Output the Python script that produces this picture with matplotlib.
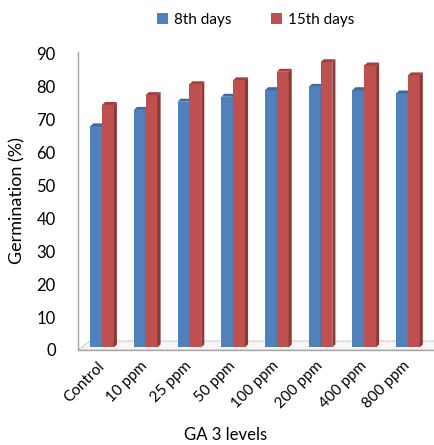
import matplotlib
matplotlib.use("Agg")
import matplotlib.pyplot as plt
from matplotlib.patches import Polygon, Rectangle

plt.rcParams['font.family'] = ['Lato', 'DejaVu Sans']

categories = ["Control", "10 ppm", "25 ppm", "50 ppm", "100 ppm", "200 ppm", "400 ppm", "800 ppm"]
day8 = [68, 73, 75.5, 77, 79, 80, 79, 78]
day15 = [74.5, 77.5, 80.8, 82, 84.6, 87.5, 86.5, 83.5]
series_names = ["8th days", "15th days"]
y_ticks = [0, 10, 20, 30, 40, 50, 60, 70, 80, 90]

front = ["#4F81BD", "#C0504D"]
side = ["#385D8A", "#8C3836"]
top = ["#3F6A9E", "#A2403D"]

fig = plt.figure(figsize=(4.35, 4.45), dpi=100)
ax = fig.add_axes([78 / 435, 95 / 445, 354 / 435, 298 / 445])
ax.set_xlim(-0.55, 7.55)
ax.set_ylim(0, 90.6)

w = 0.27
dx, dy = 0.07, 0.9

# floor of the 3-D plot area
fx0, fx1 = -0.55, 7.6
floor = Polygon([(fx0, 0), (fx1, 0), (fx1 + 0.25, 2.7), (fx0 + 0.27, 2.7)],
                closed=True, facecolor="#F7F7F7", edgecolor="#A6A6A6",
                lw=0.8, ls=(0, (1, 1)), clip_on=False, zorder=1)
ax.add_patch(floor)
ax.plot([fx0, fx1], [0, 0], color="#A6A6A6", lw=1.0, clip_on=False, zorder=1.5)

for s, vals in enumerate([day8, day15]):
    for i, v in enumerate(vals):
        x0 = i - w + s * w
        z = 2 + s
        ax.add_patch(Rectangle((x0, 0.8), w, v - 0.8, facecolor=front[s], edgecolor="none",
                               zorder=z, clip_on=False))
        ax.add_patch(Polygon([(x0 + w, 0.8), (x0 + w + dx, 0.8 + dy), (x0 + w + dx, v + dy), (x0 + w, v)],
                             closed=True, facecolor=side[s], edgecolor="none", zorder=z, clip_on=False))
        ax.add_patch(Polygon([(x0, v), (x0 + w, v), (x0 + w + dx, v + dy), (x0 + dx, v + dy)],
                             closed=True, facecolor=top[s], edgecolor="none", zorder=z, clip_on=False))

for sp in ["top", "right", "bottom"]:
    ax.spines[sp].set_visible(False)
ax.spines["left"].set_color("#A6A6A6")
ax.spines["left"].set_linewidth(1.0)

ax.set_yticks(y_ticks)
ax.set_yticklabels([str(t) for t in y_ticks], fontsize=12)
ax.tick_params(axis="y", length=0, pad=16)
ax.set_xticks(range(len(categories)))
ax.set_xticklabels(categories, rotation=45, ha="right", va="center",
                   rotation_mode="anchor", fontsize=11)
ax.tick_params(axis="x", length=0, pad=10)

ax.set_ylabel("Germination (%)", fontsize=13, labelpad=8)
fig.text(226 / 435, 1 - 435 / 445, "GA 3 levels", ha="center", va="center", fontsize=12)

handles = [Rectangle((0, 0), 1, 1, facecolor=c) for c in front]
fig.legend(handles, series_names, loc="center", bbox_to_anchor=(256 / 435, 1 - 20 / 445),
           ncol=2, frameon=False, fontsize=11, handlelength=0.7, handleheight=0.7,
           handletextpad=0.4, columnspacing=2.6)

fig.savefig("out.png", dpi=100)
